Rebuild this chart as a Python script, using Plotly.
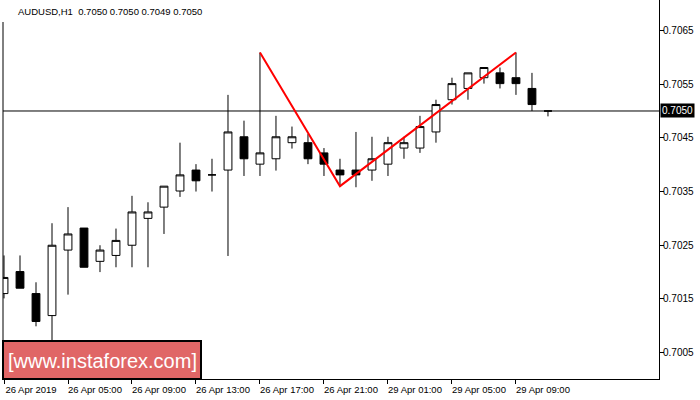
import plotly.graph_objects as go

# ---- data ----
times = [
    "26 Apr 01:00", "26 Apr 02:00", "26 Apr 03:00", "26 Apr 04:00", "26 Apr 05:00",
    "26 Apr 06:00", "26 Apr 07:00", "26 Apr 08:00", "26 Apr 09:00", "26 Apr 10:00",
    "26 Apr 11:00", "26 Apr 12:00", "26 Apr 13:00", "26 Apr 14:00", "26 Apr 15:00",
    "26 Apr 16:00", "26 Apr 17:00", "26 Apr 18:00", "26 Apr 19:00", "26 Apr 20:00",
    "26 Apr 21:00", "26 Apr 22:00", "26 Apr 23:00", "29 Apr 00:00", "29 Apr 01:00",
    "29 Apr 02:00", "29 Apr 03:00", "29 Apr 04:00", "29 Apr 05:00", "29 Apr 06:00",
    "29 Apr 07:00", "29 Apr 08:00", "29 Apr 09:00", "29 Apr 10:00", "29 Apr 11:00",
]
opens = [0.70160, 0.70201, 0.70160, 0.70119, 0.70241, 0.70282, 0.70220, 0.70231, 0.70250, 0.70300,
         0.70321, 0.70351, 0.70390, 0.70381, 0.70390, 0.70452, 0.70401, 0.70411, 0.70441, 0.70441,
         0.70422, 0.70390, 0.70390, 0.70390, 0.70401, 0.70431, 0.70431, 0.70461, 0.70521, 0.70542,
         0.70562, 0.70571, 0.70562, 0.70542, 0.70500]
highs = [0.70231, 0.70231, 0.70181, 0.70291, 0.70321, 0.70282, 0.70250, 0.70281, 0.70342, 0.70330,
         0.70360, 0.70441, 0.70401, 0.70411, 0.70530, 0.70482, 0.70609, 0.70491, 0.70471, 0.70457,
         0.70431, 0.70411, 0.70461, 0.70452, 0.70452, 0.70452, 0.70491, 0.70521, 0.70562, 0.70571,
         0.70581, 0.70581, 0.70609, 0.70571, 0.70500]
lows = [0.70151, 0.70170, 0.70099, 0.70060, 0.70158, 0.70209, 0.70200, 0.70209, 0.70209, 0.70209,
        0.70271, 0.70340, 0.70350, 0.70350, 0.70230, 0.70379, 0.70379, 0.70389, 0.70430, 0.70401,
        0.70379, 0.70360, 0.70358, 0.70370, 0.70379, 0.70411, 0.70422, 0.70441, 0.70512, 0.70521,
        0.70551, 0.70542, 0.70530, 0.70500, 0.70490]
closes = [0.70190, 0.70170, 0.70108, 0.70250, 0.70271, 0.70209, 0.70241, 0.70259, 0.70312, 0.70312,
          0.70360, 0.70381, 0.70370, 0.70381, 0.70461, 0.70411, 0.70422, 0.70452, 0.70452, 0.70411,
          0.70401, 0.70381, 0.70381, 0.70411, 0.70441, 0.70441, 0.70471, 0.70512, 0.70551, 0.70571,
          0.70581, 0.70551, 0.70551, 0.70512, 0.70500]

# pattern pivots (indices into the bars): peak, trough, peak
pattern_idx = [16, 21, 32]
pattern_kind = ["high", "low", "high"]

tick_bars = ["26 Apr 01:00", "26 Apr 05:00", "26 Apr 09:00", "26 Apr 13:00", "26 Apr 17:00",
             "26 Apr 21:00", "29 Apr 01:00", "29 Apr 05:00", "29 Apr 09:00"]
tick_text = ["26 Apr 2019", "26 Apr 05:00", "26 Apr 09:00", "26 Apr 13:00", "26 Apr 17:00",
             "26 Apr 21:00", "29 Apr 01:00", "29 Apr 05:00", "29 Apr 09:00"]
y_ticks = [0.7005, 0.7015, 0.7025, 0.7035, 0.7045, 0.7055, 0.7065]
title_text = "AUDUSD,H1  0.7050 0.7050 0.7049 0.7050"
watermark = "[www.instaforex.com]"

FONT = "Liberation Sans, Arial, sans-serif"

fig = go.Figure()
fig.add_trace(go.Candlestick(
    x=times, open=opens, high=highs, low=lows, close=closes,
    increasing=dict(fillcolor="white", line=dict(color="black", width=1)),
    decreasing=dict(fillcolor="black", line=dict(color="black", width=1)),
    whiskerwidth=0, showlegend=False, hoverinfo="skip",
))

px_ = [times[i] for i in pattern_idx]
py_ = [highs[i] if k == "high" else lows[i] for i, k in zip(pattern_idx, pattern_kind)]
fig.add_trace(go.Scatter(x=px_, y=py_, mode="lines",
                         line=dict(color="#ff0000", width=2),
                         showlegend=False, hoverinfo="skip"))

# plot area in pixels: x 3..659, y 0..379
PW, PH = 656.0, 379.0
def pxx(p):
    return (p - 3) / PW
def pyy(p):
    return (379 - p) / PH

shapes = [
    dict(type="line", xref="paper", yref="y", x0=0, x1=1, y0=closes[-1], y1=closes[-1],
         line=dict(color="black", width=1), layer="below"),
    dict(type="line", xref="paper", yref="paper", x0=0, x1=0, y0=0, y1=pyy(22),
         line=dict(color="black", width=1), layer="above"),
    dict(type="rect", xref="paper", yref="paper", x0=0, x1=pxx(201), y0=0, y1=pyy(341),
         fillcolor="#e06666", line=dict(color="black", width=2), layer="above"),
]

annotations = [
    dict(text=title_text, xref="paper", yref="paper", x=pxx(16), y=pyy(11.5),
         xanchor="left", yanchor="middle", showarrow=False,
         font=dict(family=FONT, size=9.5, color="black")),
    dict(text=f"{closes[-1]:.4f}", xref="paper", yref="y", x=1, xshift=1, y=closes[-1],
         xanchor="left", yanchor="middle", showarrow=False, bgcolor="black", borderpad=1,
         font=dict(family=FONT, size=10, color="white")),
    dict(text=watermark, xref="paper", yref="paper", x=pxx(102), y=pyy(360.5),
         xanchor="center", yanchor="middle", showarrow=False,
         font=dict(family=FONT, size=20, color="white")),
]

fig.update_layout(
    width=700, height=400, autosize=False,
    margin=dict(l=3, r=41, t=0, b=21, pad=0),
    paper_bgcolor="white", plot_bgcolor="white",
    shapes=shapes, annotations=annotations,
    showlegend=False,
)
fig.update_xaxes(
    type="category", range=[-0.0625, 40.94], rangeslider=dict(visible=False),
    tickmode="array", tickvals=tick_bars, ticktext=tick_text,
    ticks="outside", ticklen=4, tickcolor="black", tickwidth=1,
    ticklabelshift=27, ticklabelstandoff=-2,
    showline=True, linecolor="black", linewidth=1, showgrid=False, zeroline=False,
    tickfont=dict(family=FONT, size=9.5, color="black"),
    fixedrange=True,
)
fig.update_yaxes(
    side="right", range=[0.700009, 0.707067],
    tickmode="array", tickvals=y_ticks, ticktext=[f"{v:.4f}" for v in y_ticks],
    ticks="outside", ticklen=4, tickcolor="black", tickwidth=1,
    ticklabelstandoff=-3,
    showline=True, linecolor="black", linewidth=1, showgrid=False, zeroline=False,
    tickfont=dict(family=FONT, size=10, color="black"),
    fixedrange=True,
)

fig.write_html("out.html", config={"displayModeBar": False},
               post_script="document.body.style.margin='0';document.body.style.padding='0';")
